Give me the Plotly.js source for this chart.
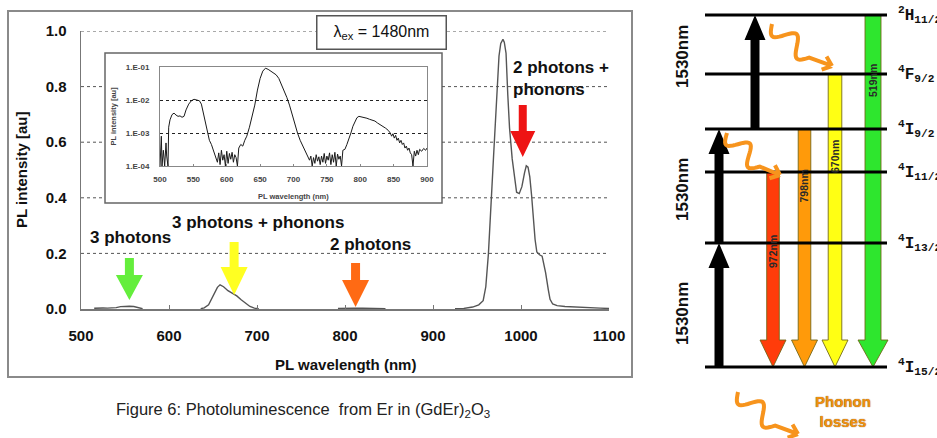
<!DOCTYPE html>
<html><head><meta charset="utf-8">
<script src="https://cdn.plot.ly/plotly-3.0.1.min.js"></script>
<style>html,body{margin:0;padding:0;background:#fff;}#chart{width:937px;height:438px;}</style>
</head><body><div id="chart"></div>
<script>
// ---------------- DATA ----------------
// Main PL spectrum (linear scale), gaps = null
const mainNm = [515,520,525,530,535,540,545,550,555,560,565,570,null,
  636,640,645,650,655,658,662,667,672,677,682,687,692,697,702,null,
  792,800,810,820,830,840,846,null,
  925,935,945,952,957,960,963,965,967,969,971,973,975,977,979.5,981,983,985,987,990,993,995,998,1001,1004,1006,1008,1010,1012,1014,1016,1018,1021,1024,1026,1028,1031,1033,1036,1041,1050,1060,1070,1080,1090,1100];
const mainPL = [0.0025,0.004,0.0035,0.0033,0.003,0.005,0.0085,0.0105,0.01,0.009,0.004,0.001,null,
  0.001,0.004,0.015,0.045,0.078,0.087,0.08,0.066,0.056,0.047,0.033,0.02,0.009,0.003,0.001,null,
  0.002,0.003,0.003,0.0025,0.0022,0.002,0.0015,null,
  0.001,0.002,0.007,0.015,0.03,0.08,0.2,0.3,0.44,0.56,0.68,0.82,0.91,0.955,0.97,0.96,0.92,0.77,0.65,0.54,0.46,0.42,0.415,0.44,0.49,0.515,0.51,0.475,0.41,0.32,0.25,0.205,0.195,0.19,0.165,0.13,0.07,0.035,0.018,0.012,0.009,0.007,0.006,0.004,0.003,0.002];

// Inset PL spectrum (log scale)
const insetNm = [500,502,503,505,507,509,510,512,513,515,518,521,524,527,530,533,536,539,543,547,551,555,559,562,565,568,571,574,577,580,583,586,588,590,592,594,596,598,600,602,604,606,608,610,612,614,616,618,621,624,627,630,634,638,642,646,650,654,658,662,666,670,674,678,682,686,690,694,698,702,706,710,714,718,721,724,726,728,730,732,734,736,738,740,742,744,746,748,750,752,754,756,758,760,762,764,766,768,770,772,774,777,780,783,786,789,792,795,798,802,806,810,814,818,822,826,830,834,838,842,845,847,849,851,853,855,857,859,861,863,865,867,869,871,873,875,877,879,881,883,885,887,889,892,895,898,900];
const insetPL = [1.0e-4,8e-4,1.0e-4,3e-4,1.0e-4,5e-4,2e-4,1.0e-4,1.5e-3,2.5e-3,3.6e-3,4.0e-3,3.5e-3,3.2e-3,3.3e-3,3.0e-3,3.2e-3,5.0e-3,7.5e-3,9.5e-3,1.05e-2,1.0e-2,9.5e-3,7.5e-3,4.0e-3,2.0e-3,1.0e-3,6.0e-4,4.5e-4,3.0e-4,2.2e-4,1.3e-4,2.5e-4,1.1e-4,3.0e-4,1.5e-4,2.2e-4,1.0e-4,2.8e-4,1.2e-4,2.4e-4,1.6e-4,2.6e-4,1.3e-4,2.2e-4,1.8e-4,1.0e-4,3.5e-4,4.5e-4,4.0e-4,6.0e-4,8.0e-4,1.5e-3,3.0e-3,7.0e-3,2.0e-2,4.5e-2,7.5e-2,9.2e-2,8.5e-2,7.5e-2,6.5e-2,5.8e-2,4.5e-2,3.0e-2,2.0e-2,1.2e-2,7.0e-3,3.5e-3,1.8e-3,1.0e-3,6.0e-4,4.0e-4,3.0e-4,2.2e-4,1.5e-4,2.0e-4,1.0e-4,1.8e-4,1.2e-4,2.2e-4,1.4e-4,1.9e-4,1.1e-4,2.0e-4,1.3e-4,2.4e-4,1.2e-4,2.0e-4,1.5e-4,2.5e-4,1.1e-4,2.2e-4,1.3e-4,2.6e-4,1.0e-4,2.3e-4,1.6e-4,2.0e-4,1.0e-4,3.0e-4,3.2e-4,4.5e-4,6.5e-4,1.0e-3,1.6e-3,2.3e-3,2.9e-3,3.2e-3,3.1e-3,2.9e-3,2.8e-3,2.6e-3,2.5e-3,2.3e-3,2.0e-3,1.8e-3,1.6e-3,1.4e-3,1.2e-3,1.0e-3,8.0e-4,9.5e-4,7.0e-4,8.5e-4,6.0e-4,7.0e-4,5.0e-4,6.0e-4,4.5e-4,5.0e-4,3.5e-4,4.0e-4,3.0e-4,3.5e-4,2.5e-4,2.2e-4,1.0e-4,2.8e-4,2.0e-4,3.0e-4,2.2e-4,3.2e-4,2.8e-4,3.4e-4,3.0e-4,3.5e-4];

// Ticks
const mainXTicks = [500,600,700,800,900,1000,1100];
const mainYTicks = [0,0.2,0.4,0.6,0.8,1.0];
const mainYTickText = ['0.0','0.2','0.4','0.6','0.8','1.0'];
const insetXTicks = [500,550,600,650,700,750,800,850,900];
const insetYTicks = [1e-4,1e-3,1e-2,1e-1];
const insetYTickText = ['1.E-04','1.E-03','1.E-02','1.E-01'];

// Emission band markers
const bandLabels = ['3 photons','3 photons + phonons','2 photons','2 photons +<br>phonons'];
const bandNm = [555,674,812,1002];

// Er3+ energy levels (cm-1)
const levelMult = ['4','4','4','4','4','2'];
const levelLetter = ['I','I','I','I','F','H'];
const levelJ = ['15/2','13/2','11/2','9/2','9/2','11/2'];
const levelE = [0,6490,10210,12460,15340,18430];
// 1530nm pump steps (level indices)
const pumpFrom = [0,1,3];
const pumpTo = [1,3,5];
const pumpLabel = '1530nm';
// emissions to ground
const emitFrom = [2,3,4,5];
const emitNm = [972,798,670,519];

// ---------------- LAYOUT / STYLE ----------------
const W = 937, H = 438;
const PX = x => x / W, PY = y => 1 - y / H;
const M = {l:81, r:609, t:31, b:309};      // main plot px box
const I = {l:160, r:427, t:67, b:166};     // inset plot px box
const IB = {l:105, r:442, t:53, b:203};    // inset frame
const nmPerPx = (1100-500)/(M.r-M.l), valPerPx = 1/(M.b-M.t);
const nmAt = px => 500 + (px - M.l)*nmPerPx;
const FONT = 'Liberation Sans, Arial, sans-serif';

const shapes = [];
const annotations = [];
function note(o) { annotations.push(Object.assign({showarrow:false, xanchor:'center', yanchor:'middle'}, o)); }

// outer frame + inset frame
shapes.push({type:'rect', xref:'paper', yref:'paper', x0:PX(8), x1:PX(632), y0:PY(377), y1:PY(11),
  line:{color:'#8a8a8a', width:2}, layer:'below'});
shapes.push({type:'rect', xref:'paper', yref:'paper', x0:PX(IB.l), x1:PX(IB.r), y0:PY(IB.b), y1:PY(IB.t),
  line:{color:'#666', width:1.5}, fillcolor:'#fff', layer:'below'});

// main horizontal gridlines (interrupted by inset frame)
mainYTicks.forEach(v => {
  if (v === 0) return;
  const py = M.b - v/valPerPx;
  const segs = (py > IB.t && py < IB.b) ? [[500, nmAt(IB.l)], [nmAt(IB.r), 1100]] : [[500, 1100]];
  segs.forEach(s => shapes.push({type:'line', xref:'x', yref:'y', x0:s[0], x1:s[1], y0:v, y1:v,
    line:{color:'#555', width:1, dash:'dot'}, layer:'below'}));
});

// block arrow path helpers (axis units, y up)
function downArrow(xc, top, tip, sw, hw, hh) {
  const b = tip + hh;
  return `M${xc-sw},${top} L${xc+sw},${top} L${xc+sw},${b} L${xc+hw},${b} L${xc},${tip} L${xc-hw},${b} L${xc-sw},${b} Z`;
}
function upArrow(xc, bottom, tip, sw, hw, hh) {
  const b = tip - hh;
  return `M${xc-sw},${bottom} L${xc+sw},${bottom} L${xc+sw},${b} L${xc+hw},${b} L${xc},${tip} L${xc-hw},${b} L${xc-sw},${b} Z`;
}

// band arrows in main plot
const bandArrowStyle = [
  {color:'#64ee3c', topPx:258, tipPx:300, hh:25, sw:9, hw:27},
  {color:'#ffff22', topPx:242, tipPx:295, hh:28, sw:9, hw:27},
  {color:'#ff6a14', topPx:263, tipPx:307, hh:27, sw:9, hw:27},
  {color:'#ee1414', topPx:105, tipPx:157, hh:26, sw:8, hw:25}];
bandNm.forEach((nm, i) => {
  const s = bandArrowStyle[i];
  const top = (M.b - s.topPx)*valPerPx, tip = (M.b - s.tipPx)*valPerPx;
  shapes.push({type:'path', xref:'x', yref:'y', layer:'above', fillcolor:s.color, line:{width:0},
    path: downArrow(nm, top, tip, s.sw/2*nmPerPx, s.hw/2*nmPerPx, s.hh*valPerPx)});
});
const bandLabelPos = [[130,237],[258,222],[370,244],[511,78]];
bandLabels.forEach((t, i) => note({xref:'paper', yref:'paper', x:PX(bandLabelPos[i][0]), y:PY(bandLabelPos[i][1]),
  text:t, xanchor: i===3 ? 'left':'center', align:'left',
  font:{family:FONT, size:17, weight:'bold', color:'#111'}}));

// titles, box, caption
note({xref:'paper', yref:'paper', x:PX((M.l+M.r)/2), y:PY(364), text:'PL wavelength (nm)',
  font:{family:FONT, size:15, weight:'bold', color:'#111'}});
note({xref:'paper', yref:'paper', x:PX(22), y:PY((M.t+M.b)/2), text:'PL intensity [au]', textangle:-90,
  font:{family:FONT, size:15, weight:'bold', color:'#111'}});
note({xref:'paper', yref:'paper', x:PX((I.l+I.r)/2), y:PY(197), text:'PL wavelength (nm)',
  font:{family:FONT, size:7.5, weight:'bold', color:'#444'}});
note({xref:'paper', yref:'paper', x:PX(113), y:PY((I.t+I.b)/2), text:'PL intensity [au]', textangle:-90,
  font:{family:FONT, size:7.5, weight:'bold', color:'#444'}});
note({xref:'paper', yref:'paper', x:PX(381.5), y:PY(32.5), text:'λ<sub>ex</sub> = 1480nm',
  width:126, height:30, bgcolor:'#fff', bordercolor:'#555', borderwidth:1.5, borderpad:1,
  font:{family:FONT, size:16, color:'#111'}});
note({xref:'paper', yref:'paper', x:PX(303), y:PY(410), text:'Figure 6: Photoluminescence&nbsp; from Er in (GdEr)<sub>2</sub>O<sub>3</sub>',
  font:{family:FONT, size:16.5, color:'#222'}});

// ---------------- ENERGY DIAGRAM ----------------
const E0px = 367, pxPerCm = 0.0191;
const cmPerPx = 1/pxPerCm;
const levelX = [705, 887];
const lvX = [], lvY = [];
levelE.forEach(e => { lvX.push(levelX[0], levelX[1], null); lvY.push(e, e, null); });
levelE.forEach((e, i) => note({xref:'x3', yref:'y3', x:896, y:e, xanchor:'left',
  text:`<sup>${levelMult[i]}</sup>${levelLetter[i]}<sub>${levelJ[i]}</sub>`,
  font:{family:'Liberation Mono, Courier New, monospace', size:16, weight:'bold', color:'#111'}}));

// pump arrows
const pumpX = [719, 719, 755], pumpLabelOff = [9, 4, -15];
pumpFrom.forEach((f, i) => {
  const e1 = levelE[f], e2 = levelE[pumpTo[i]];
  shapes.push({type:'path', xref:'x3', yref:'y3', layer:'below', fillcolor:'#000', line:{width:0},
    path: upArrow(pumpX[i], e1, e2, 4.5, 10.5, 25*cmPerPx)});
  note({xref:'x3', yref:'y3', x:682, y:(e1+e2)/2 - pumpLabelOff[i]*cmPerPx, text:pumpLabel, textangle:-90,
    font:{family:FONT, size:17, weight:'bold', color:'#111'}});
});

// emission arrows
const emitX = [773, 804.5, 835, 873], emitSW = [6.3, 6.3, 6.8, 8], emitHW = [13, 13, 13, 15];
const emitColor = ['#ff3c0a', '#ff9a0a', '#ffff14', '#2ee62e'];
const emitLabelOff = [80, 57, 83, 66];
emitFrom.forEach((f, i) => {
  const e = levelE[f];
  shapes.push({type:'path', xref:'x3', yref:'y3', layer:'below', fillcolor:emitColor[i], line:{color:'rgba(110,100,20,0.85)', width:1},
    path: downArrow(emitX[i], e, levelE[0], emitSW[i], emitHW[i], 27*cmPerPx)});
  note({xref:'x3', yref:'y3', x:emitX[i], y:e - emitLabelOff[i]*cmPerPx, text:emitNm[i]+'nm', textangle:-90,
    font:{family:FONT, size:10.5, weight:'bold', color:'#2a2a2a'}});
});

// phonon wiggles (decoration, page px)
function wiggle(sx, sy, tx, ty) {
  const mx = sx + 0.62*(tx-sx), my = sy + 0.8*(ty-sy);
  const dx = mx - sx, dy = my - sy, L = Math.hypot(dx, dy);
  const nx = -dy/L, ny = dx/L;
  let p = '';
  for (let k = 0; k <= 36; k++) {
    const t = k/36, a = 9*Math.sin(2*Math.PI*1.5*t);
    const x = sx + dx*t + nx*a, y = sy + dy*t + ny*a;
    p += (k ? ' L' : 'M') + PX(x).toFixed(5) + ',' + PY(y).toFixed(5);
  }
  p += ' L' + PX(tx).toFixed(5) + ',' + PY(ty).toFixed(5);
  const ux = (tx-mx), uy = (ty-my), ul = Math.hypot(ux, uy);
  const cx = ux/ul, cy = uy/ul;
  [40, -40].forEach(deg => {
    const r = deg*Math.PI/180;
    const ax = cx*Math.cos(r) - cy*Math.sin(r), ay = cx*Math.sin(r) + cy*Math.cos(r);
    p += ' M' + PX(tx - 11*ax).toFixed(5) + ',' + PY(ty - 11*ay).toFixed(5) + ' L' + PX(tx).toFixed(5) + ',' + PY(ty).toFixed(5);
  });
  return p;
}
[[772,24,832,66],[727,133,780,175],[738,392,798,434]].forEach(w => shapes.push({type:'path', xref:'paper', yref:'paper',
  layer:'above', path:wiggle(...w), line:{color:'#f7941d', width:4}}));
note({xref:'paper', yref:'paper', x:PX(843), y:PY(411), text:'Phonon<br>losses',
  font:{family:FONT, size:15, weight:'bold', color:'#f0900f', shadow:'0 0 1px #6b3c00'}});

// ---------------- TRACES ----------------
const traces = [
  {x:mainNm, y:mainPL, xaxis:'x', yaxis:'y', type:'scatter', mode:'lines', connectgaps:false,
   line:{color:'#555', width:1.4}, hoverinfo:'skip'},
  {x:insetNm, y:insetPL, xaxis:'x2', yaxis:'y2', type:'scatter', mode:'lines',
   line:{color:'#1a1a1a', width:1}, hoverinfo:'skip'},
  {x:lvX, y:lvY, xaxis:'x3', yaxis:'y3', type:'scatter', mode:'lines', line:{color:'#000', width:3}, hoverinfo:'skip'}
];

const layout = {
  width:W, height:H, margin:{l:0, r:0, t:0, b:0}, paper_bgcolor:'#fff', plot_bgcolor:'rgba(0,0,0,0)', showlegend:false,
  xaxis:{domain:[PX(M.l), PX(M.r)], range:[500,1100], anchor:'y', tickvals:mainXTicks, ticks:'inside', ticklen:4, tickcolor:'#777',
    showline:true, linecolor:'#777', linewidth:1.5, showgrid:false, zeroline:false, ticklabelstandoff:12,
    tickfont:{family:FONT, size:15, weight:'bold', color:'#111'}},
  yaxis:{domain:[PY(M.b), PY(M.t)], range:[0,1], anchor:'x', tickvals:mainYTicks, ticktext:mainYTickText, ticks:'',
    showline:true, linecolor:'#777', linewidth:1.5, showgrid:false, zeroline:false, ticklabelstandoff:10,
    tickfont:{family:FONT, size:15, weight:'bold', color:'#111'}},
  xaxis2:{domain:[PX(I.l), PX(I.r)], range:[500,900], anchor:'y2', tickvals:insetXTicks, ticks:'inside', ticklen:2, tickcolor:'#888',
    showline:true, mirror:true, linecolor:'#888', linewidth:1, showgrid:false, zeroline:false, ticklabelstandoff:5,
    tickfont:{family:FONT, size:8, weight:'bold', color:'#444'}},
  yaxis2:{domain:[PY(I.b), PY(I.t)], type:'log', range:[-4,-1], anchor:'x2', tickvals:insetYTicks, ticktext:insetYTickText, ticks:'',
    showline:true, mirror:true, linecolor:'#888', linewidth:1, showgrid:true, gridcolor:'#222', griddash:'dot', gridwidth:1,
    zeroline:false, ticklabelstandoff:8, tickfont:{family:FONT, size:8, weight:'bold', color:'#444'}},
  xaxis3:{domain:[0,1], range:[0,W], anchor:'y3', visible:false, fixedrange:true},
  yaxis3:{domain:[0,1], range:[(E0px-H)*cmPerPx, E0px*cmPerPx], anchor:'x3', visible:false, fixedrange:true},
  shapes:shapes, annotations:annotations
};

Plotly.newPlot('chart', traces, layout, {displayModeBar:false, staticPlot:true});
</script>
</body></html>
